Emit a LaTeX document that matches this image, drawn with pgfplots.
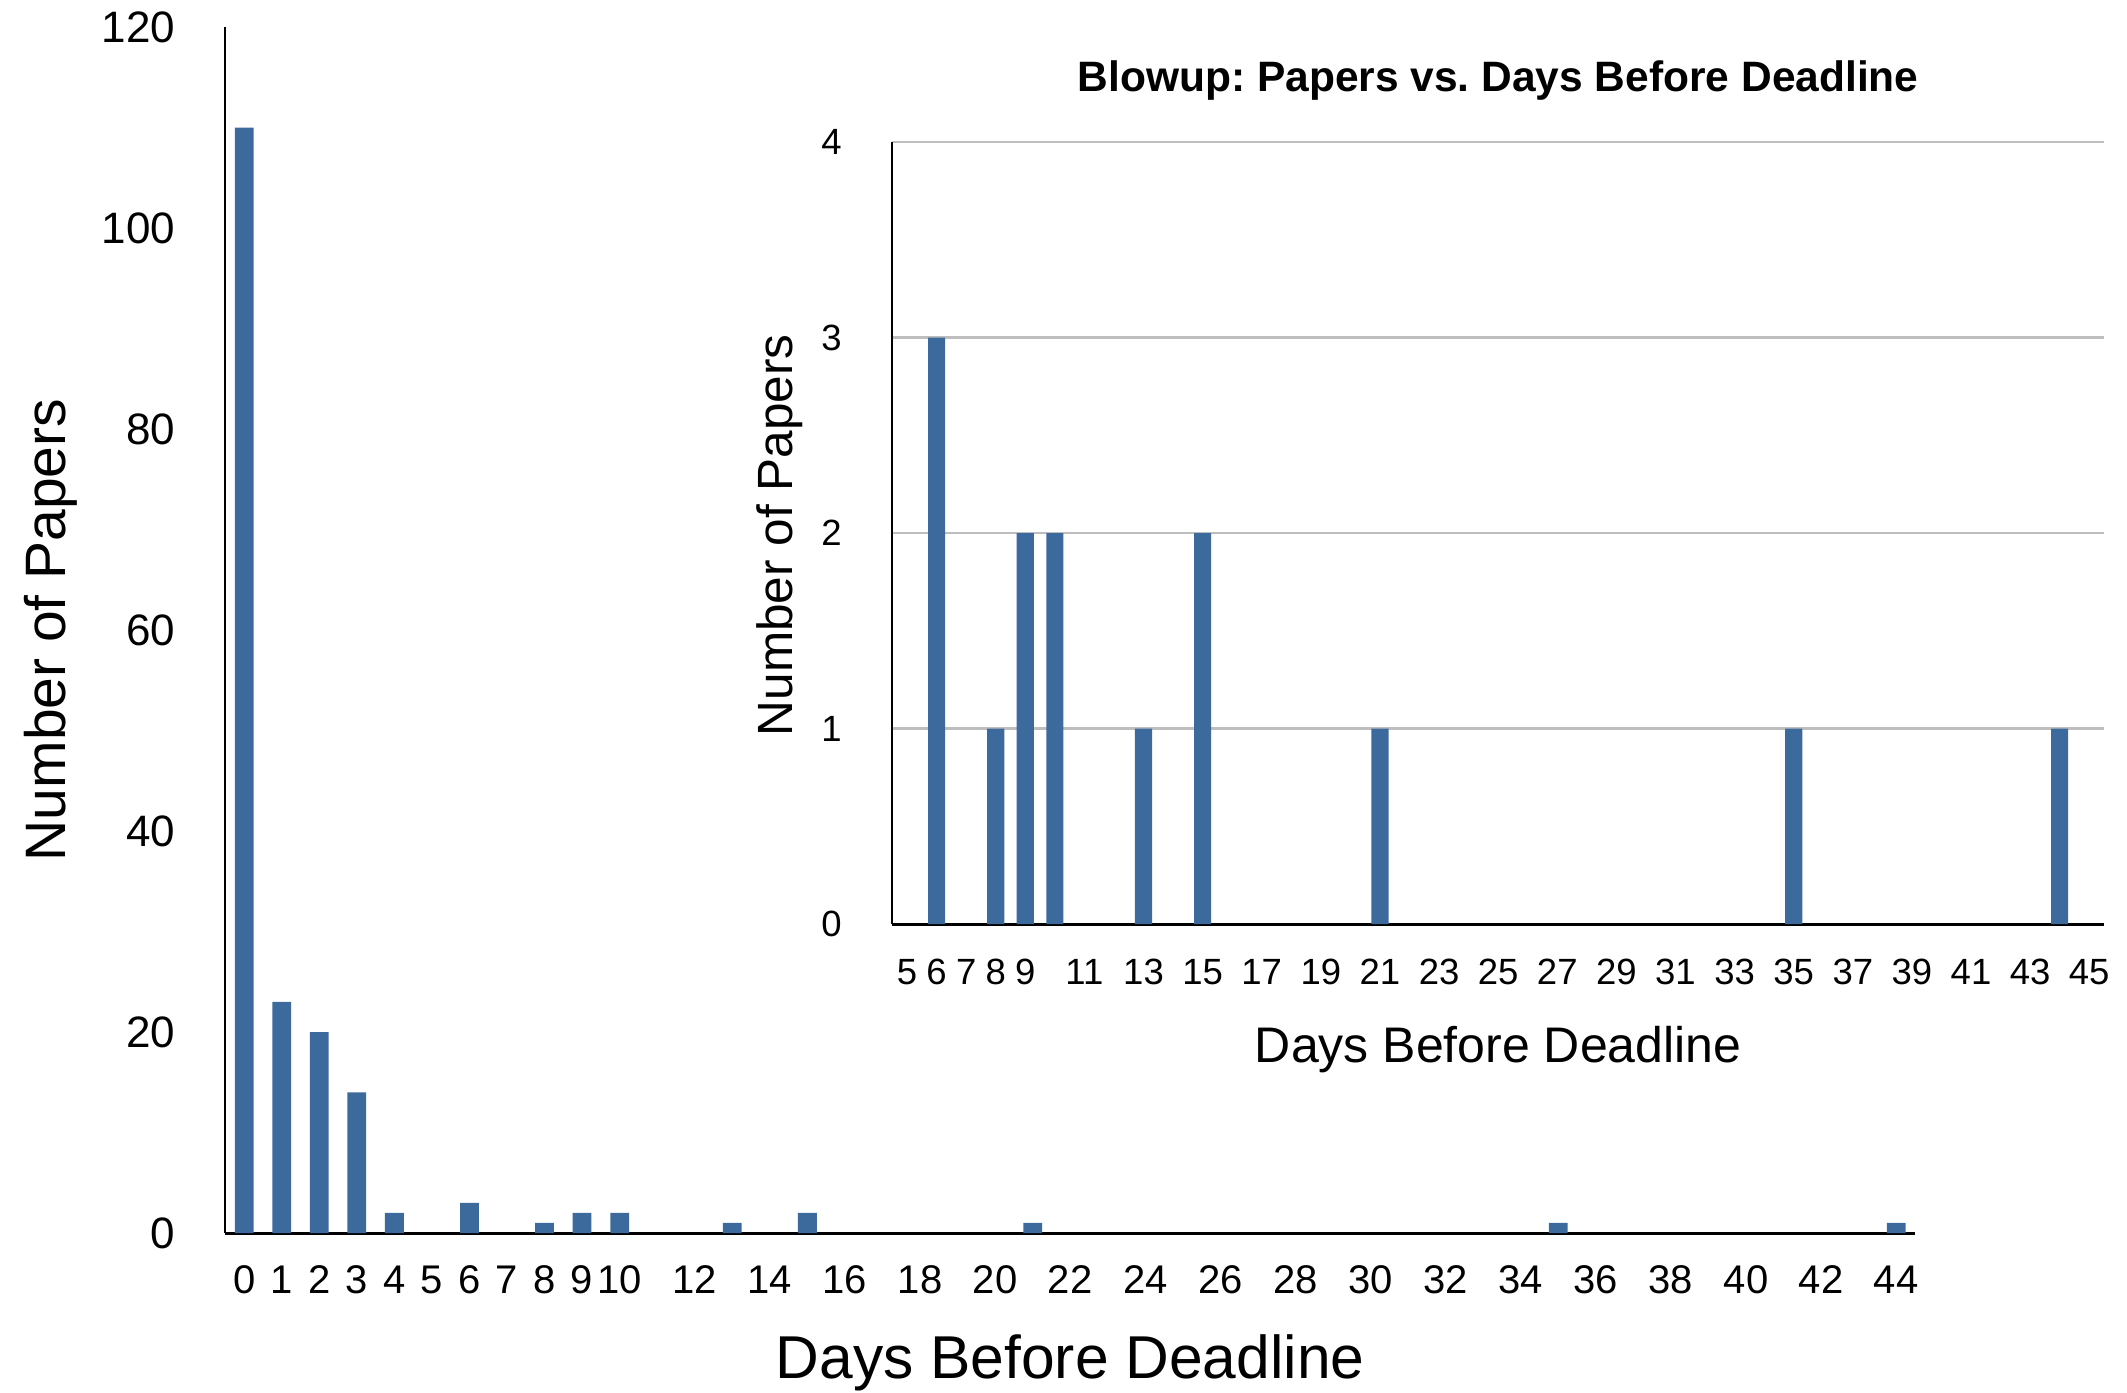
\documentclass[border=0pt]{standalone}
\usepackage{fontspec}
\setmainfont{Liberation Sans}
\usepackage{pgfplots}
\pgfplotsset{compat=1.18}
\definecolor{barblue}{RGB}{61,106,156}
\definecolor{gridgray}{RGB}{190,190,190}
\frenchspacing
\begin{document}
\begin{tikzpicture}
\path[use as bounding box] (0,0) rectangle (425.4pt,-278.4pt);
\begin{axis}[
  at={(45.08pt,-246.6pt)}, anchor=south west,
  scale only axis, width=337.92pt, height=241.2pt,
  xmin=-0.5, xmax=44.5, ymin=0, ymax=120,
  axis x line*=bottom, axis y line*=left,
  x axis line style={line width=0.6pt},
  y axis line style={line width=0.4pt},
  major tick length=0pt,
  xtick={0,1,...,10,12,14,...,44},
  ytick={0,20,...,120},
  /pgf/number format/assume math mode=true,
  xticklabel style={font=\fontsize{8}{9}\selectfont, anchor=base, yshift=-12pt},
  yticklabel style={font=\fontsize{8.8}{10}\selectfont, anchor=east, xshift=-6.5pt},
  xlabel={Days Before Deadline},
  ylabel={Number of Papers},
  every axis x label/.style={at={(axis description cs:0.5,-0.1205)}, anchor=base, font=\fontsize{12.1}{14}\selectfont},
  every axis y label/.style={at={(axis description cs:-0.0949,0.5)}, rotate=90, anchor=base, font=\fontsize{11.4}{14}\selectfont},
  ybar, bar width=0.5, bar shift=0pt,
]
\addplot[fill=barblue, draw=none] coordinates {
  (0,110) (1,23) (2,20) (3,14) (4,2) (6,3) (8,1) (9,2) (10,2)
  (13,1) (15,2) (21,1) (35,1) (44,1)
};
\end{axis}
\begin{axis}[
  at={(178.46pt,-184.8pt)}, anchor=south west,
  scale only axis, width=242.34pt, height=156.4pt,
  xmin=4.5, xmax=45.5, ymin=0, ymax=4,
  axis x line*=bottom, axis y line*=left,
  x axis line style={line width=0.6pt},
  y axis line style={line width=0.4pt},
  major tick length=0pt,
  ymajorgrids, grid style={gridgray, line width=0.5pt},
  xtick={5,6,7,8,9,11,13,...,45},
  ytick={0,1,2,3,4},
  /pgf/number format/assume math mode=true,
  xticklabel style={font=\fontsize{7.3}{9}\selectfont, anchor=base, yshift=-12pt},
  yticklabel style={font=\fontsize{7.3}{9}\selectfont, anchor=east, xshift=-6.6pt},
  xlabel={Days Before Deadline},
  ylabel={Number of Papers},
  title={Blowup: Papers vs. Days Before Deadline},
  every axis title/.style={at={(axis description cs:0.5,1.064)}, anchor=base, font=\bfseries\fontsize{8.5}{10}\selectfont},
  every axis x label/.style={at={(axis description cs:0.5,-0.177)}, anchor=base, font=\fontsize{10}{12}\selectfont},
  every axis y label/.style={at={(axis description cs:-0.082,0.497)}, rotate=90, anchor=base, font=\fontsize{9.9}{12}\selectfont},
  ybar, bar width=0.58, bar shift=0pt,
]
\addplot[fill=barblue, draw=none] coordinates {
  (6,3) (8,1) (9,2) (10,2) (13,1) (15,2) (21,1) (35,1) (44,1)
};
\end{axis}
\end{tikzpicture}
\end{document}
